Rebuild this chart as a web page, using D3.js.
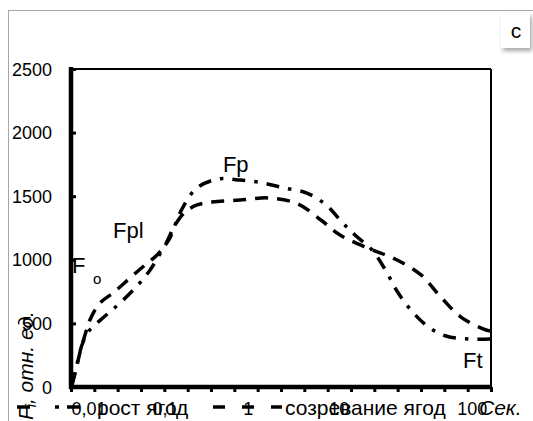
<!DOCTYPE html>
<html><head><meta charset="utf-8">
<script src="https://cdn.jsdelivr.net/npm/d3@7"></script>
<style>
html,body{margin:0;padding:0;background:#fff;}
svg{display:block;font-family:"Liberation Sans",Arial,sans-serif;}
</style></head>
<body>
<svg id="c" width="533" height="421"></svg>
<script>
// x is position along the category axis (0..18), y is F in relative units
const growthX = [0.04,0.30,0.47,0.73,1.46,2.10,2.83,3.39,3.99,4.24,4.46,4.80,5.40,6.30,7.24,8.23,9.13,10.11,10.93,11.61,12.17,12.90,13.50,13.97,14.53,15.26,16.07,17.06,18.0];
const growthY = [16,212,330,432,558,660,794,920,1101,1171,1274,1415,1565,1635,1627,1604,1565,1525,1431,1297,1195,1077,912,755,613,480,401,377,377];
const ripeX = [0.04,0.21,0.39,0.60,0.81,1.24,1.80,2.53,3.17,3.69,4.03,4.46,4.89,5.40,6.04,7.24,8.53,9.73,10.71,11.53,12.81,13.89,15.00,15.81,16.71,17.79,18.0];
const ripeY = [16,134,275,409,527,660,739,857,959,1038,1116,1274,1376,1431,1454,1470,1486,1439,1313,1195,1085,1006,881,715,550,448,440];
const xTickCount = 18;
const xLabels = ["0,01","0,1","1","10","100"];
const xLabelPos = [0.77,4.03,7.6,11.5,17.2];
const yTicks = [0,500,1000,1500,2000,2500];
const seriesNames = ["рост ягод","созревание ягод"];
const annoText = ["Fp","Fpl","F","o","Ft"];
const annoX = [6.51,1.8,0.04,0.94,16.8];
const annoY = [1690,1171,896,810,149];

const svg = d3.select("#c");
const L=71,R=491,T=69,B=387;
const x = d3.scaleLinear().domain([0,xTickCount]).range([L,R]);
const y = d3.scaleLinear().domain([0,2500]).range([B,T]);

// outer frame
svg.append("rect").attr("x",8.5).attr("y",10.5).attr("width",540).attr("height",430)
  .attr("fill","none").attr("stroke","#a6a6a6").attr("stroke-width",1);

// label box "c"
const defs = svg.append("defs");
const f = defs.append("filter").attr("id","sh").attr("x","-50%").attr("y","-50%").attr("width","200%").attr("height","200%");
f.append("feDropShadow").attr("dx",2).attr("dy",3).attr("stdDeviation",2).attr("flood-color","#000").attr("flood-opacity",0.35);
svg.append("rect").attr("x",501).attr("y",13).attr("width",29).attr("height",35).attr("fill","#fff").attr("filter","url(#sh)");
svg.append("text").attr("x",516).attr("y",38).attr("text-anchor","middle").attr("font-size",21).text("c");

// plot frame top/right
svg.append("line").attr("x1",L).attr("x2",R).attr("y1",T).attr("y2",T).attr("stroke","#000").attr("stroke-width",2);
svg.append("line").attr("x1",R).attr("x2",R).attr("y1",T).attr("y2",B).attr("stroke","#000").attr("stroke-width",2);

// y axis
const yAxis = d3.axisRight(y).tickValues(yTicks).tickSize(5).tickFormat("");
const gy = svg.append("g").attr("transform",`translate(${L},0)`).call(yAxis);
gy.select(".domain").remove();
gy.selectAll("line").attr("stroke","#000").attr("stroke-width",3);
svg.append("line").attr("x1",L).attr("x2",L).attr("y1",T-2).attr("y2",B+2).attr("stroke","#000").attr("stroke-width",4.5);
svg.append("g").selectAll("text").data(yTicks).join("text")
  .attr("x",52).attr("y",d=>y(d)+6.5).attr("text-anchor","end").attr("font-size",18).text(d=>d);

// x axis
const xAxis = d3.axisBottom(x).tickValues(d3.range(0,xTickCount+1)).tickSize(5).tickFormat("");
const gx = svg.append("g").attr("transform",`translate(0,${B})`).call(xAxis);
gx.select(".domain").remove();
gx.selectAll("line").attr("stroke","#000").attr("stroke-width",3);
svg.append("line").attr("x1",L-2).attr("x2",R+1).attr("y1",B).attr("y2",B).attr("stroke","#000").attr("stroke-width",4.5);
svg.append("g").selectAll("text").data(xLabels).join("text")
  .attr("x",(d,i)=>x(xLabelPos[i])).attr("y",415).attr("text-anchor","middle").attr("font-size",18).text(d=>d);

// series
const line = d3.line().x(d=>x(d[0])).y(d=>y(d[1])).curve(d3.curveCatmullRom.alpha(0.5));
const growth = growthX.map((v,i)=>[v,growthY[i]]);
const ripe = ripeX.map((v,i)=>[v,ripeY[i]]);
svg.append("path").attr("d",line(ripe)).attr("fill","none").attr("stroke","#000").attr("stroke-width",3.5)
  .attr("stroke-dasharray","13,9");
svg.append("path").attr("d",line(growth)).attr("fill","none").attr("stroke","#000").attr("stroke-width",3.5)
  .attr("stroke-dasharray","13,9,3.5,9");

// annotations
annoText.forEach((t,i)=>{
  svg.append("text").attr("x",x(annoX[i])).attr("y",y(annoY[i]))
    .attr("font-size",t==="o"?15:22).text(t);
});

// y title
svg.append("text").attr("transform","translate(33,420) rotate(-90)")
  .attr("font-size",21).attr("font-style","italic")
  .html('F<tspan font-size="14" dy="3">i</tspan><tspan dy="-3">, отн. ед.</tspan>');

// legend
svg.append("line").attr("x1",17).attr("x2",80).attr("y1",407).attr("y2",407).attr("stroke","#000").attr("stroke-width",3.5)
  .attr("stroke-dasharray","13,25,4,8,13");
svg.append("text").attr("x",97).attr("y",415).attr("font-size",21).text(seriesNames[0]);
svg.append("line").attr("x1",213).attr("x2",282).attr("y1",407).attr("y2",407).attr("stroke","#000").attr("stroke-width",3.5)
  .attr("stroke-dasharray","12,17");
svg.append("text").attr("x",285).attr("y",415).attr("font-size",21).text(seriesNames[1]);

// x title
svg.append("text").attr("x",479).attr("y",415).attr("font-size",21).attr("font-style","italic").text("Сек.");
</script>
</body></html>
